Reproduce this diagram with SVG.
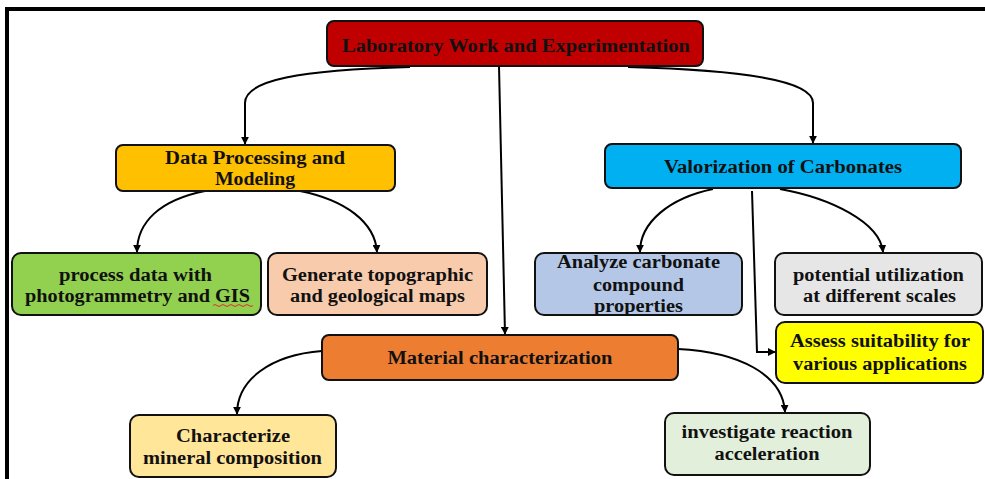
<svg xmlns="http://www.w3.org/2000/svg" width="985" height="479" viewBox="0 0 985 479">
<defs>
<marker id="ah" viewBox="0 0 10 10" refX="9" refY="5" markerWidth="4" markerHeight="4" orient="auto" markerUnits="strokeWidth">
<path d="M0,0 L10,5 L0,10 z" fill="#000"/>
</marker>
<style>
.box{stroke:#111;stroke-width:2}
.t{font-family:"Liberation Serif","Times New Roman",serif;font-weight:bold;font-size:18.5px;fill:#111;text-anchor:middle}
.c{fill:none;stroke:#000;stroke-width:2;marker-end:url(#ah)}
</style>
</defs>
<rect width="985" height="479" fill="#fff"/>
<g id="frame">
<line x1="5" y1="9" x2="985" y2="9" stroke="#000" stroke-width="4"/>
<line x1="7" y1="7" x2="7" y2="479" stroke="#000" stroke-width="4"/>
</g>
<g id="connectors">
<path class="c" d="M410 67 C300 70 245 80 245 103 L245 144"/>
<path class="c" d="M628 67 C740 70 813 80 813 103 L813 143"/>
<path class="c" d="M499 66 L505 334"/>
<path class="c" d="M205 191 C160 200 137 222 137 252"/>
<path class="c" d="M300 191 C345 200 375 222 377 252"/>
<path class="c" d="M713 189 C670 198 640 222 640 252"/>
<path class="c" d="M780 189 C830 198 880 222 883 252"/>
<path class="c" d="M752 191 L757 352 L775 352"/>
<path class="c" d="M322 351 C270 355 237 380 237 414"/>
<path class="c" d="M678 349 C740 352 783 375 785 412"/>
</g>
<g id="lab">
<rect class="box" x="327" y="21" width="376" height="45" rx="7" fill="#C00000"/>
<text class="t" x="516" y="52" textLength="348" lengthAdjust="spacingAndGlyphs">Laboratory Work and Experimentation</text>
</g>
<g id="data">
<rect class="box" x="116" y="145" width="279" height="46" rx="7" fill="#FFC000"/>
<text class="t" x="255" y="164" textLength="180" lengthAdjust="spacingAndGlyphs">Data Processing and</text>
<text class="t" x="255" y="185" textLength="80" lengthAdjust="spacingAndGlyphs">Modeling</text>
</g>
<g id="valor">
<rect class="box" x="605" y="144" width="356" height="44" rx="7" fill="#00B0F0"/>
<text class="t" x="783" y="173" textLength="238" lengthAdjust="spacingAndGlyphs">Valorization of Carbonates</text>
</g>
<g id="process">
<rect class="box" x="12" y="253" width="249" height="62" rx="9" fill="#92D050"/>
<text class="t" x="135.5" y="281" textLength="153" lengthAdjust="spacingAndGlyphs">process data with</text>
<text class="t" x="137.5" y="302" textLength="225" lengthAdjust="spacingAndGlyphs">photogrammetry and GIS</text>
<path d="M213 305.5 q2 -2 4 0 t4 0 t4 0 t4 0 t4 0 t4 0 t4 0 t4 0 t4 0 t4 0" fill="none" stroke="#E03030" stroke-width="1"/>
</g>
<g id="generate">
<rect class="box" x="268" y="253" width="219" height="62" rx="9" fill="#F8CBAD"/>
<text class="t" x="377.5" y="281" textLength="191" lengthAdjust="spacingAndGlyphs">Generate topographic</text>
<text class="t" x="377.5" y="302" textLength="175" lengthAdjust="spacingAndGlyphs">and geological maps</text>
</g>
<g id="analyze">
<rect class="box" x="535" y="253" width="207" height="62" rx="9" fill="#B4C7E7"/>
<text class="t" x="638.5" y="268" textLength="163" lengthAdjust="spacingAndGlyphs">Analyze carbonate</text>
<text class="t" x="638.5" y="291" textLength="91" lengthAdjust="spacingAndGlyphs">compound</text>
<text class="t" x="638.5" y="312" textLength="89" lengthAdjust="spacingAndGlyphs">properties</text>
</g>
<g id="potential">
<rect class="box" x="775" y="253" width="207" height="62" rx="9" fill="#E7E6E6"/>
<text class="t" x="878.5" y="281" textLength="171" lengthAdjust="spacingAndGlyphs">potential utilization</text>
<text class="t" x="879.5" y="302" textLength="153" lengthAdjust="spacingAndGlyphs">at different scales</text>
</g>
<g id="assess">
<rect class="box" x="776" y="322" width="207" height="61" rx="9" fill="#FFFF00"/>
<text class="t" x="880" y="347" textLength="180" lengthAdjust="spacingAndGlyphs">Assess suitability for</text>
<text class="t" x="880" y="370" textLength="174" lengthAdjust="spacingAndGlyphs">various applications</text>
</g>
<g id="material">
<rect class="box" x="322" y="335" width="356" height="45" rx="7" fill="#ED7D31"/>
<text class="t" x="500" y="364" textLength="225" lengthAdjust="spacingAndGlyphs">Material characterization</text>
</g>
<g id="characterize">
<rect class="box" x="130" y="415" width="206" height="62" rx="9" fill="#FFE699"/>
<text class="t" x="233" y="442" textLength="114" lengthAdjust="spacingAndGlyphs">Characterize</text>
<text class="t" x="232.5" y="464" textLength="179" lengthAdjust="spacingAndGlyphs">mineral composition</text>
</g>
<g id="investigate">
<rect class="box" x="665" y="413" width="205" height="62" rx="9" fill="#E2EFDA"/>
<text class="t" x="767" y="438" textLength="171" lengthAdjust="spacingAndGlyphs">investigate reaction</text>
<text class="t" x="767" y="460" textLength="105" lengthAdjust="spacingAndGlyphs">acceleration</text>
</g>
</svg>
